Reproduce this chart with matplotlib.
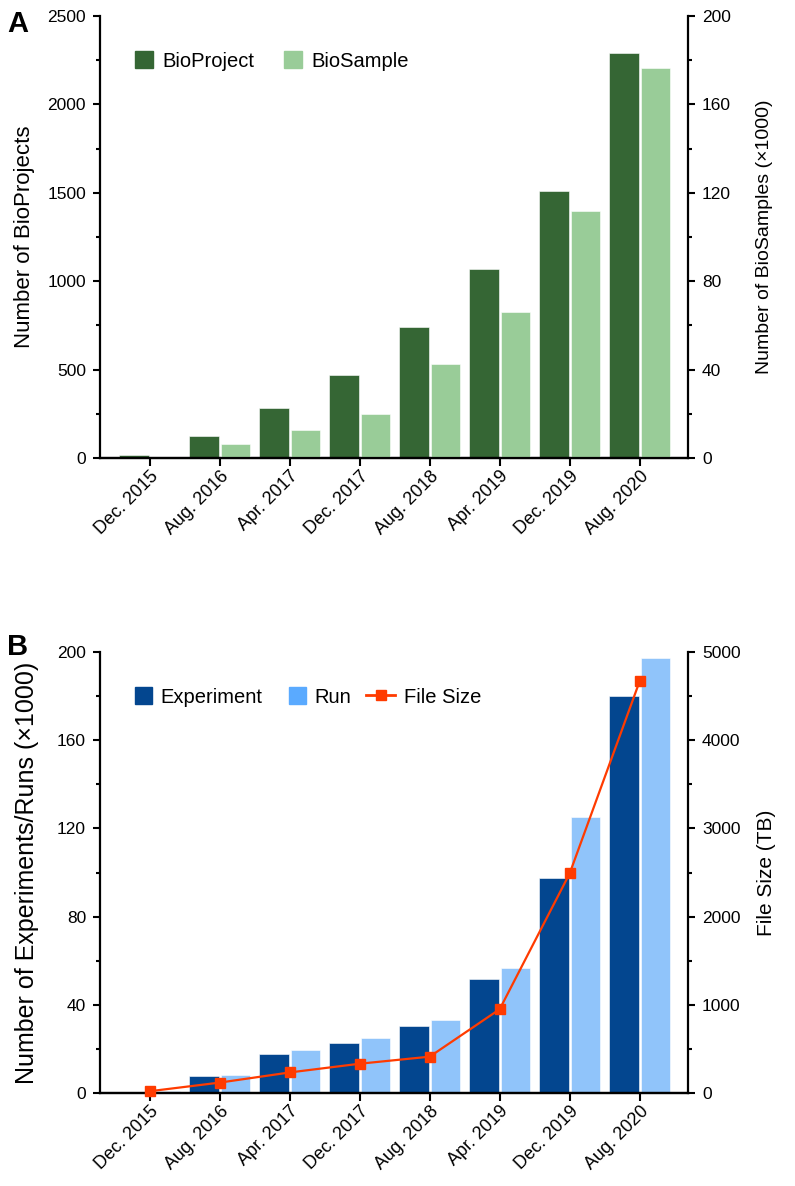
import matplotlib
matplotlib.use("Agg")
import matplotlib.pyplot as plt
from matplotlib.patches import Patch, Rectangle
from matplotlib.lines import Line2D
from matplotlib.legend_handler import HandlerPatch
from matplotlib.ticker import MultipleLocator

# release dates on the x axis
dates = ["Dec. 2015", "Aug. 2016", "Apr. 2017", "Dec. 2017",
         "Aug. 2018", "Apr. 2019", "Dec. 2019", "Aug. 2020"]

# panel A
bioproject = [17, 127, 285, 468, 740, 1070, 1508, 2292]
biosample = [0.2, 6.2, 12.5, 20.1, 42.7, 65.9, 111.7, 176.4]   # x1000

# panel B
experiment = [0.6, 7.5, 17.9, 22.7, 30.4, 51.6, 97.6, 180.2]   # x1000
run = [0.8, 8.1, 19.5, 25.0, 33.3, 56.5, 125.3, 197.3]         # x1000
file_size = [20, 118, 233, 332, 412, 950, 2490, 4670]          # TB

DARK_GREEN = "#356634"
LIGHT_GREEN = "#99CC98"
DARK_BLUE = "#03468F"
LIGHT_BLUE = "#90C4FA"
RUN_LEGEND = "#5AAAFF"
ORANGE = "#FF3B00"

plt.rcParams["font.family"] = ["Liberation Sans", "DejaVu Sans"]

W, H = 795, 1186
fig = plt.figure(figsize=(W / 100, H / 100), dpi=100)

x = list(range(len(dates)))
bw = 0.42
off = 0.225


def px_axes(left, top, right, bottom):
    return fig.add_axes([left / W, 1 - bottom / H, (right - left) / W, (bottom - top) / H])


def style_axis(ax, side):
    for s in ["top", "left", "right", "bottom"]:
        ax.spines[s].set_visible(False)
    ax.spines["bottom"].set_visible(True)
    ax.spines[side].set_visible(True)
    for s in ["bottom", side]:
        ax.spines[s].set_linewidth(1.6)
    ax.tick_params(which="major", length=5, width=1.5, labelsize=12.5, pad=5)
    ax.tick_params(which="minor", length=3, width=1.5)


def square_patch(legend, orig_handle, xdescent, ydescent, width, height, fontsize):
    s = height
    return Rectangle((-xdescent + width - s, -ydescent), s, s)


def set_xaxis(ax):
    ax.set_xlim(-0.71, 7.69)
    ax.set_xticks(x)
    ax.set_xticklabels(dates, rotation=45, ha="right", va="top",
                       rotation_mode="anchor", fontsize=13)
    ax.tick_params(axis="x", which="major", length=6, width=1.5, pad=1)


# ---------------- panel A ----------------
axA = px_axes(100, 16, 688, 458)
axA2 = axA.twinx()

axA.bar([i - off for i in x], bioproject, width=bw, color=DARK_GREEN,
        edgecolor="white", linewidth=0.4)
axA2.bar([i + off for i in x], biosample, width=bw, color=LIGHT_GREEN,
         edgecolor="white", linewidth=0.4)

axA.set_ylim(0, 2500)
axA.yaxis.set_major_locator(MultipleLocator(500))
axA.yaxis.set_minor_locator(MultipleLocator(250))
axA2.set_ylim(0, 200)
axA2.yaxis.set_major_locator(MultipleLocator(40))
axA2.yaxis.set_minor_locator(MultipleLocator(20))

style_axis(axA, "left")
style_axis(axA2, "right")
set_xaxis(axA)
set_xaxis(axA2)
axA2.tick_params(axis="x", which="both", bottom=False, labelbottom=False)

axA.set_ylabel("Number of BioProjects", fontsize=16, labelpad=9)
axA2.set_ylabel("Number of BioSamples (\u00d71000)", fontsize=14, labelpad=18)

handlesA = [Patch(color=DARK_GREEN, label="BioProject"),
            Patch(color=LIGHT_GREEN, label="BioSample")]
axA2.legend(handles=handlesA, loc="center left", bbox_to_anchor=(0.06, 0.898),
            ncol=2, frameon=False, fontsize=14.5, borderaxespad=0, borderpad=0,
            handlelength=0.9, handleheight=0.9, handletextpad=0.43,
            columnspacing=1.5)

# ---------------- panel B ----------------
axB = px_axes(100, 652, 688, 1093)
axB2 = axB.twinx()

axB.bar([i - off for i in x], experiment, width=bw, color=DARK_BLUE,
        edgecolor="white", linewidth=0.4)
axB.bar([i + off for i in x], run, width=bw, color=LIGHT_BLUE,
        edgecolor="white", linewidth=0.4)
axB2.plot(x, file_size, color=ORANGE, linewidth=1.6, marker="s",
          markersize=7, clip_on=False, zorder=5)

axB.set_ylim(0, 200)
axB.yaxis.set_major_locator(MultipleLocator(40))
axB.yaxis.set_minor_locator(MultipleLocator(20))
axB2.set_ylim(0, 5000)
axB2.yaxis.set_major_locator(MultipleLocator(1000))
axB2.yaxis.set_minor_locator(MultipleLocator(500))

style_axis(axB, "left")
style_axis(axB2, "right")
set_xaxis(axB)
set_xaxis(axB2)
axB2.tick_params(axis="x", which="both", bottom=False, labelbottom=False)

axB.set_ylabel("Number of Experiments/Runs (\u00d71000)", fontsize=18, labelpad=13)
axB2.set_ylabel("File Size (TB)", fontsize=15, labelpad=12)

handlesB = [Patch(color=DARK_BLUE, label="Experiment"),
            Patch(color=RUN_LEGEND, label="Run"),
            Line2D([], [], color=ORANGE, linewidth=2, marker="s", markersize=7,
                   label="File Size")]
axB2.legend(handles=handlesB, loc="center left", bbox_to_anchor=(0.037, 0.898),
            ncol=3, frameon=False, fontsize=14.5, borderaxespad=0, borderpad=0,
            handlelength=1.48, handleheight=0.9, handletextpad=0.43,
            columnspacing=0.7,
            handler_map={Patch: HandlerPatch(patch_func=square_patch)})

# panel letters
fig.text(7 / W, 1 - 32 / H, "A", fontsize=21, fontweight="bold", va="baseline")
fig.text(7 / W, 1 - 655 / H, "B", fontsize=21, fontweight="bold", va="baseline")

fig.savefig("out.png", dpi=100)
